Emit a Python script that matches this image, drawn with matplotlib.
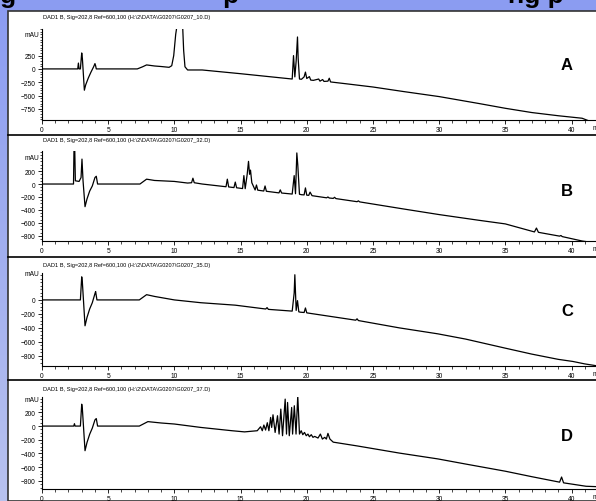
import numpy as np
import matplotlib
matplotlib.use("Agg")
import matplotlib.pyplot as plt
from matplotlib import font_manager
from matplotlib.patches import Rectangle
from matplotlib.lines import Line2D
from matplotlib.ticker import MultipleLocator, FixedLocator

W, H = 596, 502

# pick a narrow font for the ChemStation style labels
narrow = "DejaVu Sans"
for name in ["Liberation Sans Narrow", "DejaVu Sans Condensed", "Liberation Sans"]:
    try:
        font_manager.findfont(name, fallback_to_default=False)
        narrow = name
        break
    except Exception:
        pass

# ---- data (time in min, signal in mAU) ----
headers = [
    r"DAD1 B, Sig=202,8 Ref=600,100 (H:\2\DATA\G0207\G0207_10.D)",
    r"DAD1 B, Sig=202,8 Ref=600,100 (H:\2\DATA\G0207\G0207_32.D)",
    r"DAD1 B, Sig=202,8 Ref=600,100 (H:\2\DATA\G0207\G0207_35.D)",
    r"DAD1 B, Sig=202,8 Ref=600,100 (H:\2\DATA\G0207\G0207_37.D)",
]
panel_labels = ["A", "B", "C", "D"]
x_ticks = [0, 5, 10, 15, 20, 25, 30, 35, 40]

t_a = [0, 2.7, 2.75, 2.8, 2.9, 3.0, 3.05, 3.2, 3.3, 3.5, 3.7, 3.9, 4.0, 4.05, 4.1, 5,
       7.2, 7.6, 7.9, 8.5, 9.0, 9.6, 9.8, 9.95, 10.1, 10.25, 10.35, 10.6, 10.7, 10.8,
       11.0, 12.1, 15, 18.9, 19.0, 19.1, 19.2, 19.3, 19.35, 19.45, 19.6, 19.8, 19.9,
       20.0, 20.2, 20.3, 20.5, 20.9, 21.0, 21.2, 21.3, 21.6, 21.7, 21.8, 23, 25, 27.3,
       30, 33, 35, 37, 39, 40.8, 41.3, 42.5]
v_a = [0, 0, 110, 0, 0, 300, 200, -400, -300, -170, -60, 40, 100, 60, 0, 0,
       0, 40, 75, 55, 45, 30, 60, 250, 650, 900, 950, 950, 350, 40,
       -20, -20, -90, -190, 250, -150, 150, 600, 200, -190, -195, -150, -60,
       -180, -145, -210, -215, -190, -230, -200, -235, -230, -175, -245, -280, -340, -425,
       -520, -650, -740, -820, -880, -927, -975, -990]

t_b = [0, 2.38, 2.44, 2.52, 2.8, 2.95, 3.02, 3.1, 3.25, 3.4, 3.6, 3.8, 4.0, 4.1,
       4.2, 5, 7.4, 7.9, 8.5, 9.5, 10, 11, 11.3, 11.4, 11.5, 12.1, 13.9, 14.0, 14.1,
       14.5, 14.6, 14.7, 15.15, 15.25, 15.35, 15.5, 15.6, 15.68, 15.75, 15.85, 16.1,
       16.2, 16.3, 16.75, 16.85, 16.95, 17.9, 18.0, 18.1, 18.9, 19.05, 19.15, 19.25,
       19.32, 19.45, 19.6, 19.8, 19.9, 20.0, 20.15, 20.25, 20.4, 21.5, 21.6, 21.7,
       22.0, 22.1, 22.2, 23.8, 23.9, 24.0, 27.3, 30, 33, 35, 37.2, 37.35, 37.5, 39.1,
       39.2, 39.3, 40.8, 41.3, 42.5]
v_b = [0, 0, 900, 50, 40, 100, 385, 50, -350, -230, -110, -30, 100, 120,
       0, 0, 0, 75, 55, 45, 40, 15, 20, 90, 20, 0, -42, 75, -45,
       -55, 30, -58, -70, 130, -72, 150, 350, 150, 215, 20, -92,
       -15, -95, -108, -30, -112, -137, -90, -139, -155, 130, -150, 480,
       300, -158, -165, -168, -60, -172, -175, -125, -180, -213, -200, -216,
       -222, -205, -225, -273, -260, -276, -385, -472, -560, -616, -740, -680, -746, -805,
       -795, -812, -880, -895, -900]

t_c = [0, 2.9, 3.0, 3.05, 3.25, 3.4, 3.6, 3.8, 4.0, 4.05, 4.15, 7.35, 7.9, 8.5, 10, 12,
       14.6, 16.9, 17.0, 17.1, 18.9, 19.05, 19.1, 19.2, 19.3, 19.4, 19.5, 19.8, 19.9,
       20.0, 23.7, 23.8, 23.9, 27, 29.9, 32, 35, 37, 39, 40.1, 41, 42.5]
v_c = [0, 0, 330, 250, -370, -250, -130, -40, 90, 120, 0, 0, 75, 50, 0, -40,
       -75, -130, -110, -135, -160, 100, 360, -150, -10, -170, -175, -180, -115,
       -185, -290, -270, -295, -400, -485, -560, -690, -775, -850, -880, -915, -960]

t_d = [0, 2.4, 2.45, 2.5, 2.9, 3.0, 3.05, 3.25, 3.4, 3.6, 3.8, 4.0, 4.1, 4.2, 7.35, 8.0,
       9, 10, 12, 14.35, 15.3, 16.26, 16.51, 16.64, 16.76, 16.89, 17.02, 17.14, 17.27,
       17.35, 17.45, 17.61, 17.79, 17.91, 18.04, 18.17, 18.37, 18.47, 18.55, 18.68,
       18.86, 18.93, 19.06, 19.19, 19.32, 19.45, 19.58, 19.7, 19.83, 19.96, 20.09,
       20.2, 20.34, 20.47, 20.6, 20.85, 21.03, 21.18, 21.36, 21.48, 21.6, 21.75, 22,
       23.8, 27, 29.9, 32, 35, 37, 39.1, 39.25, 39.4, 41.1, 42.5]
v_d = [0, 0, 35, 0, 0, 320, 250, -360, -240, -120, -30, 90, 110, 0, 0, 65,
       45, 30, -20, -68, -85, -68, -10, -68, 15, -58, 49, -68, 126,
       -20, 165, -93, 151, -117, 248, -141, 394, -117, 345, -141,
       272, -117, 297, -117, 443, -117, -68, -126, -93, -141, -117,
       -156, -126, -165, -151, -175, -117, -190, -165, -190, -107, -190, -235,
       -290, -395, -480, -555, -660, -740, -820, -745, -830, -880, -890]

traces = [(t_a, v_a), (t_b, v_b), (t_c, v_c), (t_d, v_d)]
y_limits = [(-960, 750), (-880, 510), (-945, 385), (-920, 425)]
y_ticks = [[-750, -500, -250, 0, 250],
           [-800, -600, -400, -200, 0, 200],
           [-800, -600, -400, -200, 0],
           [-800, -600, -400, -200, 0, 200]]
mau_pos = [640, 410, 372, 395]

# ---- layout in pixels: (axis top, axis bottom, header y, panel letter y)
panels = [(30, 121, 17, 65), (152, 242, 141, 192), (274, 367, 265, 311), (398, 490, 390, 437)]
separators = [136, 258, 381]

fig = plt.figure(figsize=(W / 100, H / 100), dpi=100)
fig.patch.set_facecolor("#8193f4")

# left light strip
bg = fig.add_axes([0, 0, 1, 1], zorder=-10)
grad = np.linspace(0, 1, 256).reshape(-1, 1)
bg.imshow(grad, aspect="auto", extent=[0, 1, 0, 1], origin="upper",
          cmap=matplotlib.colors.LinearSegmentedColormap.from_list("bgc", ["#8b9cf2", "#b8c2ee"]))
bg.set_xlim(0, 1)
bg.set_ylim(0, 1)
bg.axis("off")
fig.patches.append(Rectangle((8 / W, 0), 1, 1 - 12 / H, transform=fig.transFigure,
                             facecolor="white", edgecolor="#333333", lw=1.2, zorder=-5))

for y in separators:
    fig.lines.append(Line2D([8 / W, 1], [1 - y / H, 1 - y / H], transform=fig.transFigure,
                            color="black", lw=1.2))

# title fragments cut off at the top of the slide
for xpx, frag in [(0, "g"), (222, "p"), (508, "ng p")]:
    fig.text(xpx / W, 1 - 3 / H, frag, fontsize=19, fontweight="bold",
             family="Liberation Sans", va="baseline", ha="left")

left_px = 42
for i, ((top, bot, hy, ly), (tt, vv)) in enumerate(zip(panels, traces)):
    ax = fig.add_axes([left_px / W, 1 - bot / H, 1 - left_px / W + 0.01, (bot - top) / H])
    ax.patch.set_alpha(0)
    ax.plot(tt, vv, color="black", lw=0.9)
    ax.set_xlim(0, 42.3)
    ax.set_ylim(*y_limits[i])
    for s in ["top", "right"]:
        ax.spines[s].set_visible(False)
    for s in ["left", "bottom"]:
        ax.spines[s].set_linewidth(0.8)
    ax.xaxis.set_major_locator(FixedLocator(x_ticks))
    ax.xaxis.set_minor_locator(MultipleLocator(1))
    ax.yaxis.set_major_locator(FixedLocator(y_ticks[i]))
    ax.yaxis.set_minor_locator(MultipleLocator(50))
    ax.tick_params(axis="both", which="major", labelsize=4.8, length=3, width=0.6, pad=1.5)
    ax.tick_params(axis="both", which="minor", length=1.8, width=0.5)
    for lab in ax.get_xticklabels() + ax.get_yticklabels():
        lab.set_family(narrow)
    ax.text(-0.004, mau_pos[i], "mAU", transform=ax.get_yaxis_transform(),
            ha="right", va="center", fontsize=4.8, family=narrow)
    fig.text(43 / W, 1 - hy / H, headers[i], fontsize=4.1, family=narrow,
             ha="left", va="center")
    fig.text(567 / W, 1 - ly / H, panel_labels[i], fontsize=12, fontweight="bold",
             family="Liberation Sans", ha="center", va="center")
    fig.text(593 / W, 1 - (bot + 8) / H, "min", fontsize=4.8, family=narrow,
             ha="left", va="center")

fig.savefig("out.png", dpi=100, facecolor=fig.get_facecolor())
